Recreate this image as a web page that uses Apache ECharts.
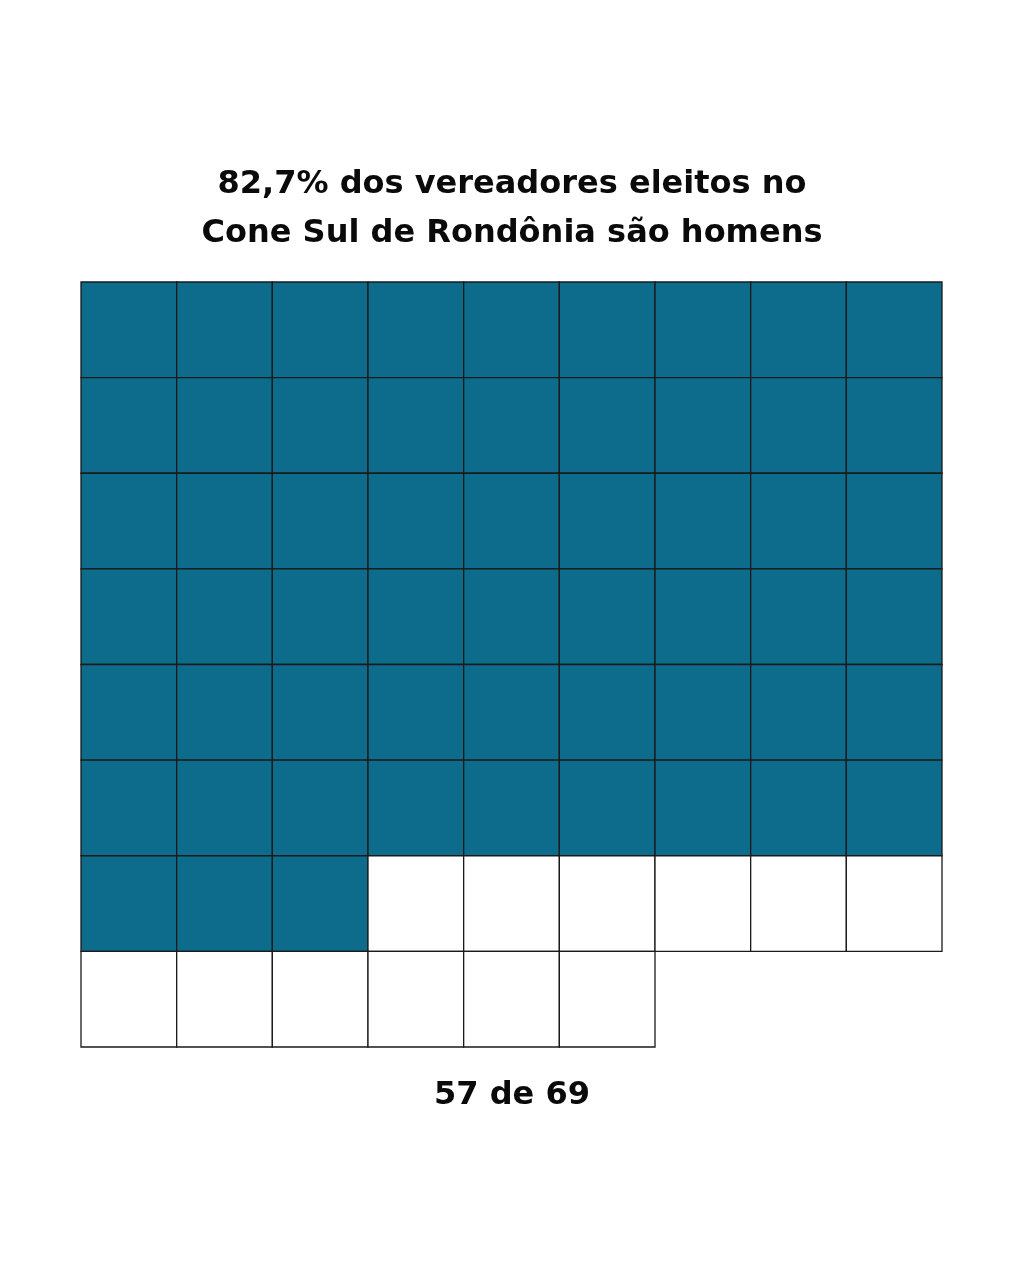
<!DOCTYPE html>
<html>
<head>
<meta charset="utf-8">
<script src="https://cdn.jsdelivr.net/npm/echarts@6/dist/echarts.min.js"></script>
<style>
html,body{margin:0;padding:0;background:#fff;}
#main{width:1024px;height:1280px;}
</style>
</head>
<body>
<div id="main"></div>
<script>
const titleLines = ["82,7% dos vereadores eleitos no", "Cone Sul de Rondônia são homens"];
const footerText = "57 de 69";
const columns = ["1","2","3","4","5","6","7","8","9"];
const rows = ["1","2","3","4","5","6","7","8"];
const filledCount = 57;
const totalCount = 69;

const cells = [];
for (let i = 0; i < totalCount; i++) {
  cells.push([i % columns.length, Math.floor(i / columns.length), i < filledCount ? 1 : 0]);
}

const chart = echarts.init(document.getElementById('main'));
chart.setOption({
  backgroundColor: '#ffffff',
  title: [{
    text: titleLines.join('\n'),
    left: 'center',
    top: 155,
    textStyle: {fontFamily: 'DejaVu Sans', fontWeight: 'bold', fontSize: 32, lineHeight: 49, color: '#0a0a0a'}
  }, {
    text: footerText,
    left: 'center',
    top: 1075,
    textStyle: {fontFamily: 'DejaVu Sans', fontWeight: 'bold', fontSize: 32, color: '#0a0a0a'}
  }],
  grid: {left: 81, top: 282, width: 861, height: 765},
  xAxis: {type: 'category', data: columns, show: false},
  yAxis: {type: 'category', data: rows, inverse: true, show: false},
  series: [{
    type: 'custom',
    data: cells,
    renderItem: function (params, api) {
      const c = api.coord([api.value(0), api.value(1)]);
      const s = api.size([1, 1]);
      return {
        type: 'rect',
        shape: {x: c[0] - s[0] / 2, y: c[1] - s[1] / 2, width: s[0], height: s[1]},
        style: {fill: api.value(2) ? '#0d6c8b' : '#ffffff', stroke: '#1a1a1a', lineWidth: 1.3}
      };
    }
  }]
});
</script>
</body>
</html>
